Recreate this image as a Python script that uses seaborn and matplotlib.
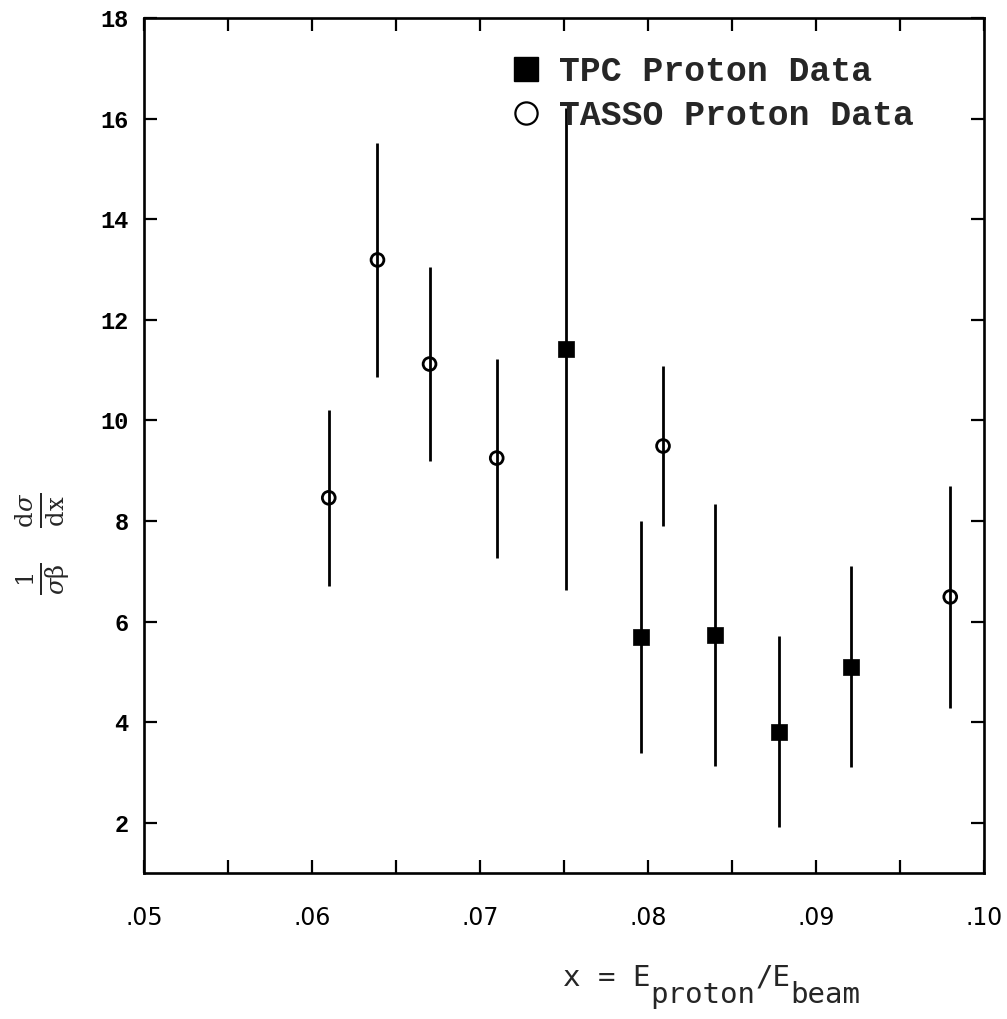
import numpy as np
import pandas as pd
import matplotlib
matplotlib.use("Agg")
import matplotlib.pyplot as plt
import seaborn as sns
from matplotlib.ticker import FixedLocator, FuncFormatter
from matplotlib.lines import Line2D
from matplotlib.font_manager import FontProperties

# --- data -------------------------------------------------------------
tpc_x = [0.0751, 0.0796, 0.0840, 0.0878, 0.0921]
tpc_y = [11.42, 5.69, 5.73, 3.81, 5.10]
tpc_err = [4.80, 2.30, 2.60, 1.90, 2.00]

tasso_x = [0.0610, 0.0639, 0.0670, 0.0710, 0.0809, 0.0980]
tasso_y = [8.46, 13.19, 11.12, 9.25, 9.49, 6.49]
tasso_err = [1.75, 2.33, 1.92, 1.98, 1.60, 2.21]

series_labels = ["TPC Proton Data", "TASSO Proton Data"]
x_tick_values = [0.05, 0.06, 0.07, 0.08, 0.09, 0.10]
x_tick_labels = [".05", ".06", ".07", ".08", ".09", ".10"]
y_tick_values = [2, 4, 6, 8, 10, 12, 14, 16, 18]

tpc = pd.DataFrame({"x": tpc_x, "y": tpc_y, "err": tpc_err})
tasso = pd.DataFrame({"x": tasso_x, "y": tasso_y, "err": tasso_err})

# --- style ------------------------------------------------------------
sns.set_style("ticks", {"xtick.direction": "in", "ytick.direction": "in"})
plt.rcParams["mathtext.fontset"] = "dejavuserif"
plt.rcParams["axes.linewidth"] = 1.9
plt.rcParams["axes.edgecolor"] = "black"

fig = plt.figure(figsize=(10.07, 10.19), dpi=100)
ax = fig.add_axes([0.143, 0.1433, 0.834, 0.839])

# error bars
for d in (tpc, tasso):
    ax.errorbar(d["x"], d["y"], yerr=d["err"], fmt="none", ecolor="black",
                elinewidth=2.0, capsize=0, zorder=2)

# markers
sns.scatterplot(data=tpc, x="x", y="y", marker="s", s=130, color="black",
                edgecolor="black", linewidth=0.5, ax=ax, zorder=3, legend=False)
sns.scatterplot(data=tasso, x="x", y="y", marker="o", s=85,
                facecolors="none", edgecolor="black", linewidth=2.0,
                ax=ax, zorder=3, legend=False)

# --- axes ---------------------------------------------------------------
ax.set_xlim(0.05, 0.10)
ax.set_ylim(1, 18)
ax.set_xlabel("")
ax.set_ylabel("")

x_all = np.round(np.arange(0.05, 0.1001, 0.005), 3)
ax.xaxis.set_major_locator(FixedLocator(x_all))
lab_map = {round(v, 3): t for v, t in zip(x_tick_values, x_tick_labels)}
ax.xaxis.set_major_formatter(FuncFormatter(lambda v, p: lab_map.get(round(v, 3), "")))
ax.yaxis.set_major_locator(FixedLocator(y_tick_values))
ax.yaxis.set_major_formatter(FuncFormatter(lambda v, p: f"{int(round(v))}"))

ax.tick_params(axis="both", which="major", direction="in", length=9.5, width=1.6,
               top=True, right=True, colors="black")
ax.tick_params(axis="x", pad=24)
ax.tick_params(axis="y", pad=11)
for t in ax.get_xticklabels():
    t.set_fontfamily("DejaVu Sans")
    t.set_fontsize(17)
for t in ax.get_yticklabels():
    t.set_fontfamily("Liberation Mono")
    t.set_fontweight("bold")
    t.set_fontsize(17)
for s in ax.spines.values():
    s.set_visible(True)
    s.set_linewidth(1.9)

# --- legend -----------------------------------------------------------
handles = [
    Line2D([], [], linestyle="none", marker="s", markersize=17,
           markerfacecolor="black", markeredgecolor="black"),
    Line2D([], [], linestyle="none", marker="o", markersize=16,
           markerfacecolor="none", markeredgecolor="black", markeredgewidth=1.6),
]
ax.legend(handles, series_labels, loc="upper left",
          bbox_to_anchor=(0.418, 0.9725), frameon=False,
          prop=FontProperties(family="Liberation Mono", weight="bold", size=25),
          handlelength=1.0, handletextpad=0.45, labelspacing=0.30,
          borderaxespad=0.0)

# --- axis titles --------------------------------------------------------
fig.text(0.042, 1 - 544 / 1019,
         r"$\frac{1}{\sigma\mathrm{\beta}}\ \ \ \frac{\mathrm{d}\sigma}{\mathrm{dx}}$",
         rotation=90, ha="center", va="center", fontsize=25)

# x = E_proton / E_beam with full-size, lowered subscripts
fig.canvas.draw()
renderer = fig.canvas.get_renderer()
xl_font = dict(family="DejaVu Sans Mono", fontsize=21)
parts = [("x = E", 0.0), ("proton", -17.0), ("/E", 0.0), ("beam", -17.0)]
cur_x = 563.0
base_y = 1019 - 986.0
for txt, dy in parts:
    t = fig.text(cur_x / 1007, (base_y + dy) / 1019, txt, ha="left",
                 va="baseline", **xl_font)
    bb = t.get_window_extent(renderer)
    cur_x += bb.width

fig.savefig("out.png", dpi=100)
